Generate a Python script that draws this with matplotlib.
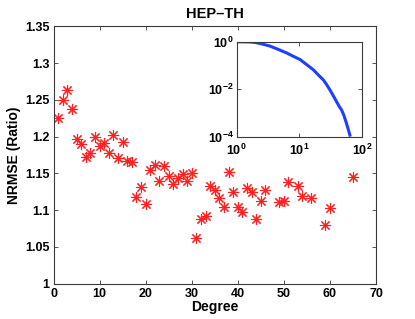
import matplotlib
matplotlib.use("Agg")
import matplotlib.pyplot as plt
from matplotlib.ticker import FixedLocator, FixedFormatter, NullLocator

plt.rcParams['font.family'] = ['Liberation Sans', 'DejaVu Sans']
plt.rcParams['font.weight'] = 'bold'
plt.rcParams['mathtext.fontset'] = 'custom'
plt.rcParams['mathtext.rm'] = 'Liberation Sans:bold'
plt.rcParams['mathtext.bf'] = 'Liberation Sans:bold'
plt.rcParams['mathtext.it'] = 'Liberation Sans:bold'

degree = [1, 2, 3, 4, 5, 6, 7, 8, 9, 10, 11, 12, 13, 14, 15, 16, 17, 18, 19, 20,
          21, 22, 23, 24, 25, 26, 27, 28, 29, 30, 31, 32, 33, 34, 35, 36, 37, 38,
          39, 40, 41, 42, 43, 44, 45, 46, 49, 50, 51, 53, 54, 56, 59, 60, 65]
nrmse = [1.225, 1.250, 1.264, 1.237, 1.197, 1.190, 1.172, 1.178, 1.199, 1.187,
         1.191, 1.178, 1.202, 1.171, 1.193, 1.167, 1.166, 1.118, 1.132, 1.109,
         1.155, 1.161, 1.140, 1.160, 1.147, 1.135, 1.144, 1.149, 1.139, 1.150,
         1.062, 1.088, 1.092, 1.133, 1.128, 1.116, 1.104, 1.152, 1.125, 1.104,
         1.097, 1.130, 1.124, 1.088, 1.113, 1.128, 1.111, 1.112, 1.138, 1.133,
         1.119, 1.116, 1.080, 1.103, 1.145]

ccdf_x = [1.0, 1.3, 1.6, 1.96, 2.5, 3.4, 4.5, 6.25, 8.0, 10.2, 13.0, 16.6, 20.0,
          24, 27, 30.5, 34, 39, 43, 46.9, 51, 56.2, 60, 63.5]
ccdf_y = [1.0, 0.995, 0.985, 0.94, 0.82, 0.66, 0.49, 0.34, 0.245, 0.18, 0.11,
          0.067, 0.04, 0.025, 0.016, 0.0095, 0.0058, 0.003, 0.0019, 0.00135,
          0.0008, 0.00036, 0.0002, 0.000118]

xticks = [0, 10, 20, 30, 40, 50, 60, 70]
yticks = [1.0, 1.05, 1.1, 1.15, 1.2, 1.25, 1.3, 1.35]
ytick_labels = ['1', '1.05', '1.1', '1.15', '1.2', '1.25', '1.3', '1.35']

axcol = '#3a3a3a'
fig = plt.figure(figsize=(4.15, 3.19), dpi=100)
ax = fig.add_axes([0.129, 0.111, 0.777, 0.806])
ax.plot(degree, nrmse, linestyle='none', marker=(8, 2, 0), markersize=8,
        markeredgewidth=0.8, color='#ff2020', markeredgecolor='#ff2020')
ax.set_xlim(0, 70)
ax.set_ylim(1.0, 1.35)
ax.set_xticks(xticks)
ax.set_yticks(yticks)
ax.set_yticklabels(ytick_labels)
ax.tick_params(direction='in', top=True, right=True, length=3, width=0.6,
               labelsize=9, colors=axcol, labelcolor='black', pad=3)
for s in ax.spines.values():
    s.set_color(axcol)
    s.set_linewidth(0.8)
ax.set_xlabel('Degree', fontsize=10, fontweight='bold', labelpad=0)
ax.set_ylabel('NRMSE (Ratio)', fontsize=10, fontweight='bold', labelpad=3)
ax.set_title('HEP\u2013TH', fontsize=10.5, fontweight='bold', pad=6)

ins = fig.add_axes([0.570, 0.571, 0.303, 0.298])
ins.loglog(ccdf_x, ccdf_y, color='#1f3fff', linewidth=2.2)
ins.set_xlim(1, 100)
ins.set_ylim(1e-4, 1)
ins.xaxis.set_major_locator(FixedLocator([1, 10, 100]))
ins.xaxis.set_major_formatter(FixedFormatter([r'$10^{0}$', r'$10^{1}$', r'$10^{2}$']))
ins.yaxis.set_major_locator(FixedLocator([1e-4, 1e-2, 1]))
ins.yaxis.set_major_formatter(FixedFormatter([r'$10^{-4}$', r'$10^{-2}$', r'$10^{0}$']))
ins.xaxis.set_minor_locator(NullLocator())
ins.yaxis.set_minor_locator(NullLocator())
ins.tick_params(direction='in', top=True, right=True, length=3, width=0.6,
                labelsize=9, colors=axcol, labelcolor='black')
ins.tick_params(axis='x', pad=4)
ins.tick_params(axis='y', pad=2)
for s in ins.spines.values():
    s.set_color(axcol)
    s.set_linewidth(0.8)

fig.savefig('out.png', dpi=100)
